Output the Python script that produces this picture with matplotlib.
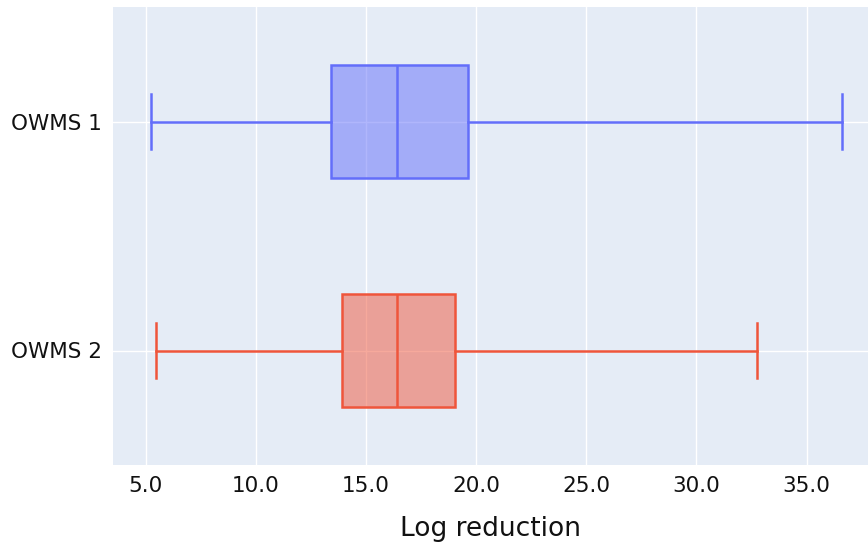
import matplotlib.pyplot as plt

# box statistics (Log reduction)
groups = ["OWMS 2", "OWMS 1"]
colors = ["#EF553B", "#636EFA"]
lower_fence = [5.48, 5.23]
q1 = [13.89, 13.41]
median = [16.39, 16.41]
q3 = [19.05, 19.65]
upper_fence = [32.77, 36.60]

stats = []
for i, g in enumerate(groups):
    stats.append({"label": g, "whislo": lower_fence[i], "q1": q1[i], "med": median[i],
                  "q3": q3[i], "whishi": upper_fence[i], "fliers": []})

fig = plt.figure(figsize=(8.68, 5.51), dpi=100)
ax = fig.add_axes([113 / 868, 86 / 551, 755 / 868, 458 / 551])
ax.set_facecolor("#E5ECF6")

for i, s in enumerate(stats):
    c = colors[i]
    ax.bxp([s], positions=[i], widths=0.49, capwidths=0.24, orientation="horizontal",
           patch_artist=True, showfliers=False,
           boxprops=dict(facecolor=c + "80", edgecolor=c, linewidth=1.8),
           medianprops=dict(color=c, linewidth=1.8),
           whiskerprops=dict(color=c, linewidth=1.8),
           capprops=dict(color=c, linewidth=1.8),
           zorder=3)

ax.set_xlim(3.51, 37.79)
ax.set_ylim(-0.5, 1.5)
ax.set_xticks([5, 10, 15, 20, 25, 30, 35])
ax.set_xticklabels(["5.0", "10.0", "15.0", "20.0", "25.0", "30.0", "35.0"])
ax.set_yticks([0, 1])
ax.set_yticklabels(groups)
ax.grid(True, color="white", linewidth=1.0, zorder=0)
ax.set_axisbelow(True)
ax.tick_params(length=0, labelsize=15.5, pad=8, labelcolor="#111111")
for sp in ax.spines.values():
    sp.set_visible(False)
ax.set_xlabel("Log reduction", fontsize=19, labelpad=14, color="#111111")

fig.savefig("out.png", dpi=100)
